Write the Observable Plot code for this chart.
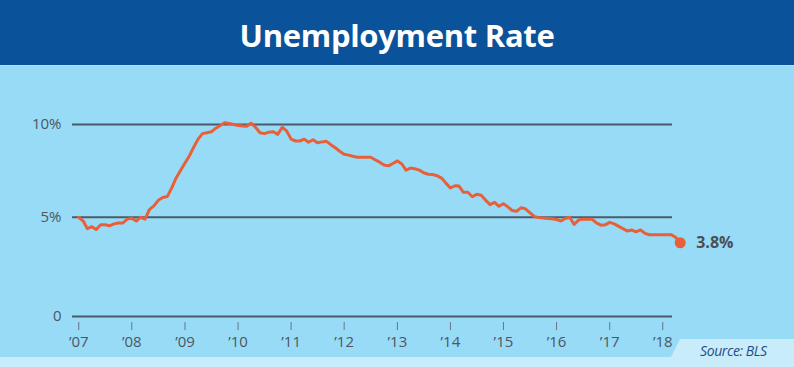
<!DOCTYPE html>
<html><head><meta charset="utf-8">
<script src="https://cdn.jsdelivr.net/npm/d3@7"></script>
<script src="https://cdn.jsdelivr.net/npm/@observablehq/plot@0.6"></script>
<style>
body{margin:0;background:#98dbf7;}
#wrap{position:relative;width:794px;height:367px;overflow:hidden;background:#98dbf7;font-family:"Open Sans",sans-serif;}
#title{height:66px;background:#0a5299;border-bottom:1px solid #b4e4f9;color:#fff;font:700 31px "Open Sans",sans-serif;display:flex;align-items:center;justify-content:center;letter-spacing:-0.3px;padding-top:5px;box-sizing:border-box}
#strip{position:absolute;left:0;top:357px;width:794px;height:10px;background:#c9ecfb}
#srcbox{position:absolute;left:671px;top:339px;width:123px;height:18px;background:#c9ecfb;clip-path:polygon(9px 0,100% 0,100% 100%,0 100%)}
#src{position:absolute;left:700px;top:341px;font:italic 14px "Open Sans",sans-serif;color:#1d4e89;letter-spacing:-0.4px}
#chart{position:absolute;left:0;top:67px}
</style>
</head><body>
<div id="wrap">
  <div id="title">Unemployment Rate</div>
  <div id="strip"></div>
  <div id="srcbox"></div>
  <div id="chart"></div>
  <div id="src">Source: BLS</div>
</div>
<script>
const titleText = "Unemployment Rate";
const sourceText = "Source: BLS";
const startYear = 2007;
// monthly unemployment rate (%), Jan 2007 – May 2018
const rates = [
  5.0, 4.8, 4.4, 4.5, 4.35, 4.6, 4.6, 4.55, 4.65, 4.7, 4.7, 4.9,
  4.95, 4.8, 5.0, 4.9, 5.4, 5.6, 5.9, 6.05, 6.1, 6.55, 7.1, 7.5,
  7.9, 8.3, 8.75, 9.2, 9.5, 9.55, 9.6, 9.8, 9.95, 10.1, 10.05, 10.0,
  9.95, 9.92, 9.9, 10.07, 9.85, 9.55, 9.5, 9.58, 9.6, 9.46, 9.85, 9.65,
  9.2, 9.1, 9.1, 9.2, 9.03, 9.17, 9.0, 9.05, 9.08, 8.9, 8.73, 8.54,
  8.38, 8.33, 8.27, 8.22, 8.22, 8.22, 8.22, 8.08, 7.95, 7.8, 7.75, 7.88,
  8.02, 7.85, 7.52, 7.63, 7.6, 7.52, 7.38, 7.3, 7.28, 7.22, 7.09, 6.82,
  6.56, 6.68, 6.66, 6.33, 6.33, 6.09, 6.22, 6.17, 5.9, 5.67, 5.79, 5.58,
  5.72, 5.55, 5.36, 5.32, 5.5, 5.45, 5.25, 5.04, 4.98, 4.96, 4.94, 4.92,
  4.88, 4.8, 4.93, 5.0, 4.62, 4.85, 4.9, 4.9, 4.9, 4.7, 4.58, 4.6,
  4.73, 4.65, 4.53, 4.4, 4.28, 4.33, 4.23, 4.33, 4.15, 4.08, 4.08, 4.08,
  4.08, 4.08, 4.08, 3.93, 3.66
];
const tickYears = [2007,2008,2009,2010,2011,2012,2013,2014,2015,2016,2017,2018];
const tickLabels = ["\u201907","\u201908","\u201909","\u201910","\u201911","\u201912","\u201913","\u201914","\u201915","\u201916","\u201917","\u201918"];
const yTicks = [0, 5, 10];
const yTickLabels = ["0", "5%", "10%"];
const endLabel = "3.8%";

document.getElementById("title").textContent = titleText;
document.getElementById("src").textContent = sourceText;

const data = rates.map((v, i) => ({date: new Date(Date.UTC(startYear, i, 1)), rate: v}));
const last = data[data.length - 1];
const tickDates = tickYears.map(y => new Date(Date.UTC(y, 0, 1)));

const chart = Plot.plot({
  width: 794, height: 300,
  marginLeft: 72, marginRight: 122, marginTop: 0, marginBottom: 45,
  style: {background: "transparent", fontFamily: "'Open Sans', sans-serif", fontSize: "15px", color: "#4d5661", overflow: "visible"},
  x: {type: "utc", domain: [new Date(Date.UTC(2006, 10, 19)), new Date(Date.UTC(2018, 2, 11))], range: [72, 672.3]},
  y: {type: "pow", exponent: 0.952, domain: [0, 10], range: [249, 57]},
  marks: [
    Plot.ruleY(yTicks, {stroke: "#4b5b69", strokeWidth: 2}),
    Plot.axisY({ticks: yTicks, tickFormat: (d, i) => yTickLabels[i], tickSize: 0, tickPadding: 11, fontSize: 15, fill: "#4d5661", label: null}),
    Plot.axisX({ticks: tickDates, tickFormat: (d, i) => tickLabels[i], tickSize: 8, tickPadding: 6, stroke: "#6a7580", fontSize: 15, fill: "#4d5661", label: null}),
    Plot.lineY(data, {x: "date", y: "rate", stroke: "#e8603a", strokeWidth: 3, strokeLinejoin: "round"}),
    Plot.dot([last], {x: "date", y: "rate", r: 5.5, fill: "#e8603a"}),
    Plot.text([last], {x: "date", y: "rate", text: () => endLabel, dx: 16, textAnchor: "start", fontWeight: 700, fontSize: 16, fill: "#4a4f55"})
  ]
});
document.getElementById("chart").appendChild(chart);
</script>
</body></html>
